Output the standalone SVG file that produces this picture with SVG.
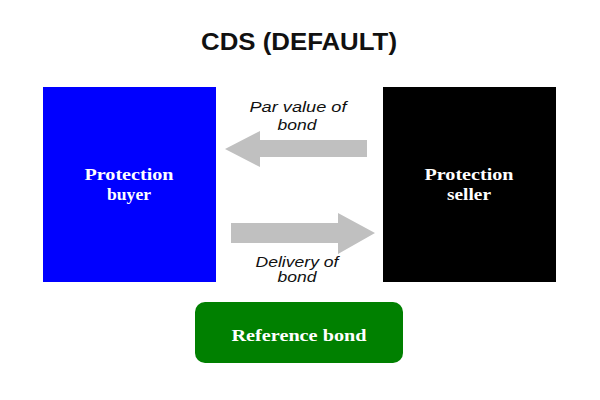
<svg xmlns="http://www.w3.org/2000/svg" width="600" height="400" viewBox="0 0 600 400">
<style>
.title{font-family:"Liberation Sans",Arial,sans-serif;font-weight:bold;font-size:23px;fill:#111}
.node{font-family:"Liberation Serif","Times New Roman",serif;font-weight:bold;font-size:17px;fill:#fff}
.lbl{font-family:"Liberation Sans",Arial,sans-serif;font-style:italic;font-size:14px;fill:#111}
.arrow{fill:#c0c0c0}
</style>
<rect width="600" height="400" fill="#fff"/>
<text class="title" x="299" y="50" text-anchor="middle" textLength="196" lengthAdjust="spacingAndGlyphs">CDS (DEFAULT)</text>
<g id="buyer">
<rect x="43" y="87" width="173" height="195" fill="#0000ff"/>
<text class="node" x="129" y="180" text-anchor="middle" textLength="89" lengthAdjust="spacingAndGlyphs">Protection</text>
<text class="node" x="129" y="200" text-anchor="middle" textLength="44" lengthAdjust="spacingAndGlyphs">buyer</text>
</g>
<g id="seller">
<rect x="383" y="87" width="173" height="195" fill="#000"/>
<text class="node" x="469" y="180" text-anchor="middle" textLength="89" lengthAdjust="spacingAndGlyphs">Protection</text>
<text class="node" x="469" y="200" text-anchor="middle" textLength="44" lengthAdjust="spacingAndGlyphs">seller</text>
</g>
<g id="reference">
<rect x="195" y="302" width="208" height="61" rx="10" fill="#008000"/>
<text class="node" x="299" y="341" text-anchor="middle" textLength="135" lengthAdjust="spacingAndGlyphs">Reference bond</text>
</g>
<g id="connectors">
<polygon class="arrow" points="367,140 260,140 260,131 225,149 260,167 260,157 367,157"/>
<polygon class="arrow" points="231,223 338,223 338,213 375,233 338,254 338,243 231,243"/>
<text class="lbl" x="298" y="112" text-anchor="middle" textLength="97" lengthAdjust="spacingAndGlyphs">Par value of</text>
<text class="lbl" x="297" y="130" text-anchor="middle" textLength="39" lengthAdjust="spacingAndGlyphs">bond</text>
<text class="lbl" x="297" y="267" text-anchor="middle" textLength="83" lengthAdjust="spacingAndGlyphs">Delivery of</text>
<text class="lbl" x="297" y="282" text-anchor="middle" textLength="39" lengthAdjust="spacingAndGlyphs">bond</text>
</g>
</svg>
